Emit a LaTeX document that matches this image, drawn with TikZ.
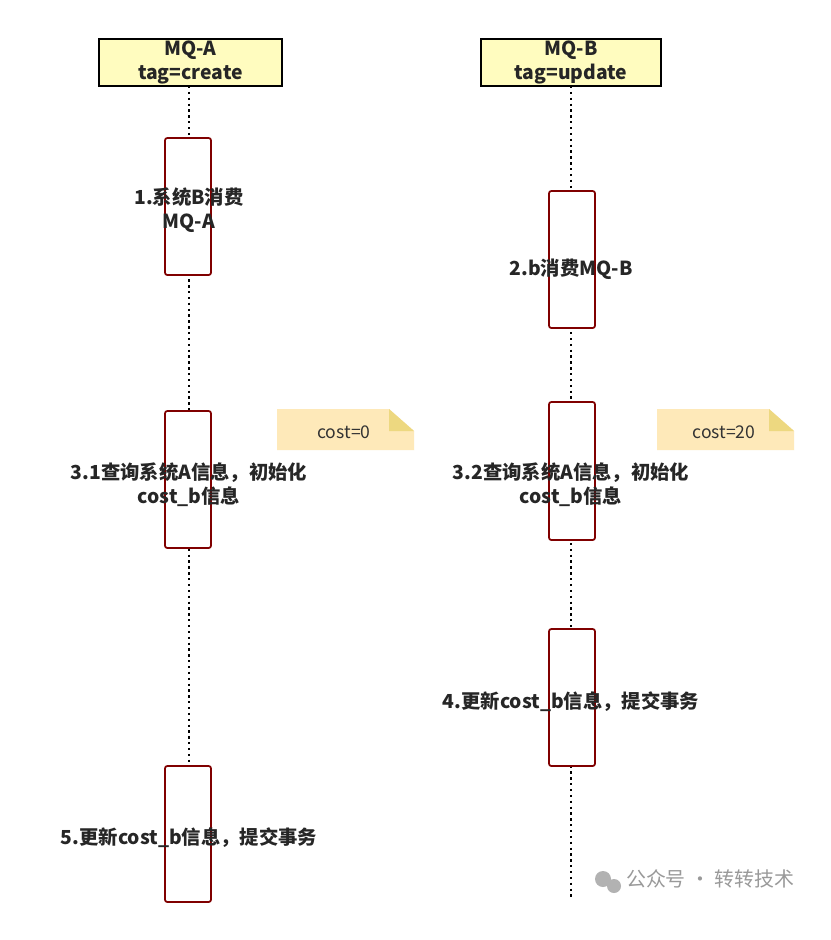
\documentclass[tikz,border=0pt]{standalone}
\usepackage{fontspec}
\setmainfont{Noto Sans CJK SC}
\begin{document}
\begin{tikzpicture}[x=0.03cm,y=-0.03cm,
  hdr/.style={draw=black,line width=1.6pt,fill=yellow!25},
  act/.style={draw=red!50!black,line width=1.5pt,fill=white,rounded corners=2pt},
  life/.style={line width=2.2pt,dash pattern=on 2pt off 3pt},
  lbl/.style={font=\fontsize{16.5}{20.5}\selectfont\bfseries,align=center,text=black!85},
  note/.style={fill=yellow!25!orange!20},
  notetxt/.style={font=\fontsize{15}{17}\selectfont,text=black!80}]
\useasboundingbox (0,0) rectangle (831,940);
\fill[white] (0,0) rectangle (831,940);
% lifelines
\coordinate (la0) at (189,86); \coordinate (la1) at (189,905);
\coordinate (lb0) at (571,86); \coordinate (lb1) at (571,900);
\draw[life] (la0) -- (la1);
\draw[life] (lb0) -- (lb1);
% headers
\node[hdr,minimum width=183*0.03cm,minimum height=47*0.03cm,lbl,inner sep=0pt] (ha) at (190.5,62.5) {MQ-A\\tag=create};
\node[hdr,minimum width=180*0.03cm,minimum height=47*0.03cm,lbl,inner sep=0pt] (hb) at (571,62.5) {MQ-B\\tag=update};
% activations
\foreach \n/\x/\a/\b in {a1/188/138/275, a3/188/411/548, a5/188/766/902, b2/572/191/328, b3/572/402/540, b4/572/629/766}
  \draw[act] (\x-23,\a) rectangle (\x+23,\b);
% labels
\node[lbl] (t1) at (189,210) {1.系统B消费\\MQ-A};
\node[lbl] (t2) at (571,269) {2.b消费MQ-B};
\node[lbl] (t31) at (189,485) {3.1查询系统A信息，初始化\\cost\_b信息};
\node[lbl] (t32) at (571,485) {3.2查询系统A信息，初始化\\cost\_b信息};
\node[lbl] (t4) at (571,702) {4.更新cost\_b信息，提交事务};
\node[lbl] (t5) at (189,838) {5.更新cost\_b信息，提交事务};
% notes
\foreach \x/\t/\nm in {277/cost=0/na, 657/cost=20/nb}{
  \fill[note,fill=yellow!40!orange!25] (\x,409) -- (\x+112,409) -- (\x+137,431) -- (\x+137,450) -- (\x,450) -- cycle;
  \fill[yellow!50!brown!60] (\x+112,409) -- (\x+112,431) -- (\x+137,431) -- cycle;
  \node[notetxt] (\nm) at (\x+67,432) {\t};
}
% watermark
\fill[gray!60] (603,879) circle (8); \fill[gray!60] (614,886) circle (7);
\node[font=\fontsize{17}{19}\selectfont,text=gray!80,anchor=west] (wm) at (622,879) {公众号 · 转转技术};
\end{tikzpicture}
\end{document}
